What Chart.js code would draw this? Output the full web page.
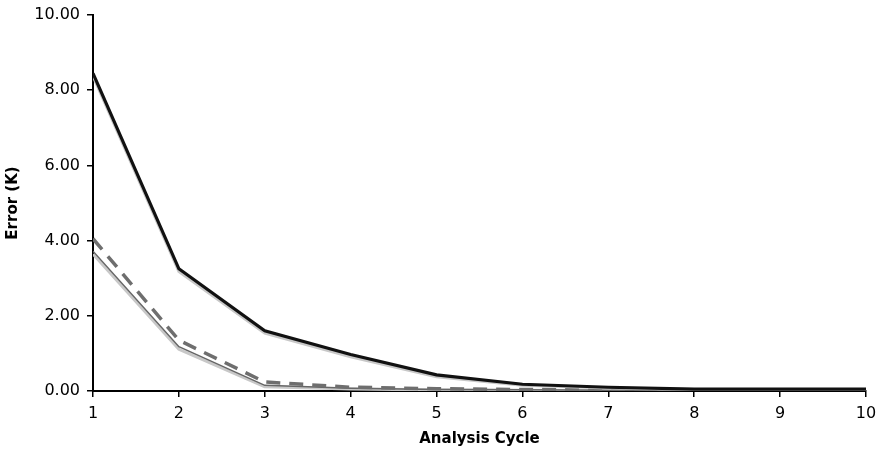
<!DOCTYPE html>
<html>
<head>
<meta charset="utf-8">
<script src="https://cdn.jsdelivr.net/npm/chart.js@4/dist/chart.umd.min.js"></script>
<style>
html,body{margin:0;padding:0;background:#fff;}
#wrap{width:879px;height:450px;position:relative;}
</style>
</head>
<body>
<div id="wrap"><canvas id="c" width="879" height="450"></canvas></div>
<script>
const cycles = [1, 2, 3, 4, 5, 6, 7, 8, 9, 10];
const errBlack = [8.45, 3.25, 1.60, 0.97, 0.43, 0.18, 0.10, 0.05, 0.05, 0.05];
const errBlackShadow = [8.38, 3.18, 1.54, 0.91, 0.38, 0.15, 0.08, 0.04, 0.04, 0.04];
const errDashed = [4.05, 1.35, 0.24, 0.10, 0.06, 0.04, 0.03, 0.02, 0.02, 0.02];
const errLower = [3.72, 1.18, 0.15, 0.07, 0.04, 0.03, 0.02, 0.02, 0.02, 0.02];
const errLowerShadow = [3.64, 1.11, 0.11, 0.05, 0.03, 0.02, 0.01, 0.01, 0.01, 0.01];
const yTicks = [0, 2, 4, 6, 8, 10];

const pts = arr => arr.map((v, i) => ({x: cycles[i], y: v}));

new Chart(document.getElementById('c'), {
  type: 'line',
  data: {
    datasets: [
      {data: pts(errBlack), borderColor: '#111', borderWidth: 3.2, pointRadius: 0, tension: 0},
      {data: pts(errBlackShadow), borderColor: '#c8c8c8', borderWidth: 3, pointRadius: 0, tension: 0},
      {data: pts(errDashed), borderColor: '#6e6e6e', borderWidth: 3.5, borderDash: [14, 9], pointRadius: 0, tension: 0},
      {data: pts(errLower), borderColor: '#666', borderWidth: 1.5, pointRadius: 0, tension: 0},
      {data: pts(errLowerShadow), borderColor: '#c8c8c8', borderWidth: 3, pointRadius: 0, tension: 0}
    ]
  },
  options: {
    responsive: false,
    animation: false,
    events: [],
    layout: {padding: {top: 15, right: 13, left: 0, bottom: 0}},
    plugins: {legend: {display: false}, tooltip: {enabled: false}},
    scales: {
      x: {
        type: 'linear', min: 1, max: 10,
        afterFit: s => { s.height = 59; s.paddingRight = 0; s.paddingLeft = 0; },
        ticks: {stepSize: 1, color: '#000', font: {family: 'DejaVu Sans', size: 16}, padding: 7},
        grid: {drawOnChartArea: false, drawTicks: true, tickLength: 6, color: '#000', lineWidth: 1.5},
        border: {display: true, color: '#000', width: 2},
        title: {display: true, text: 'Analysis Cycle', color: '#000', font: {family: 'DejaVu Sans', size: 15, weight: 'bold'}, padding: {top: 0, bottom: 2}}
      },
      y: {
        type: 'linear', min: 0, max: 10,
        afterFit: s => { s.width = 93; s.paddingTop = 0; s.paddingBottom = 0; },
        afterBuildTicks: s => { s.ticks = yTicks.map(v => ({value: v})); },
        ticks: {color: '#000', font: {family: 'DejaVu Sans', size: 16}, padding: 7, callback: v => Number(v).toFixed(2)},
        grid: {drawOnChartArea: false, drawTicks: true, tickLength: 6, color: '#000', lineWidth: 1.5},
        border: {display: true, color: '#000', width: 2},
        title: {display: true, text: 'Error (K)', color: '#000', font: {family: 'DejaVu Sans', size: 15, weight: 'bold'}, padding: {top: 4, bottom: 0}}
      }
    }
  }
});
</script>
</body>
</html>
